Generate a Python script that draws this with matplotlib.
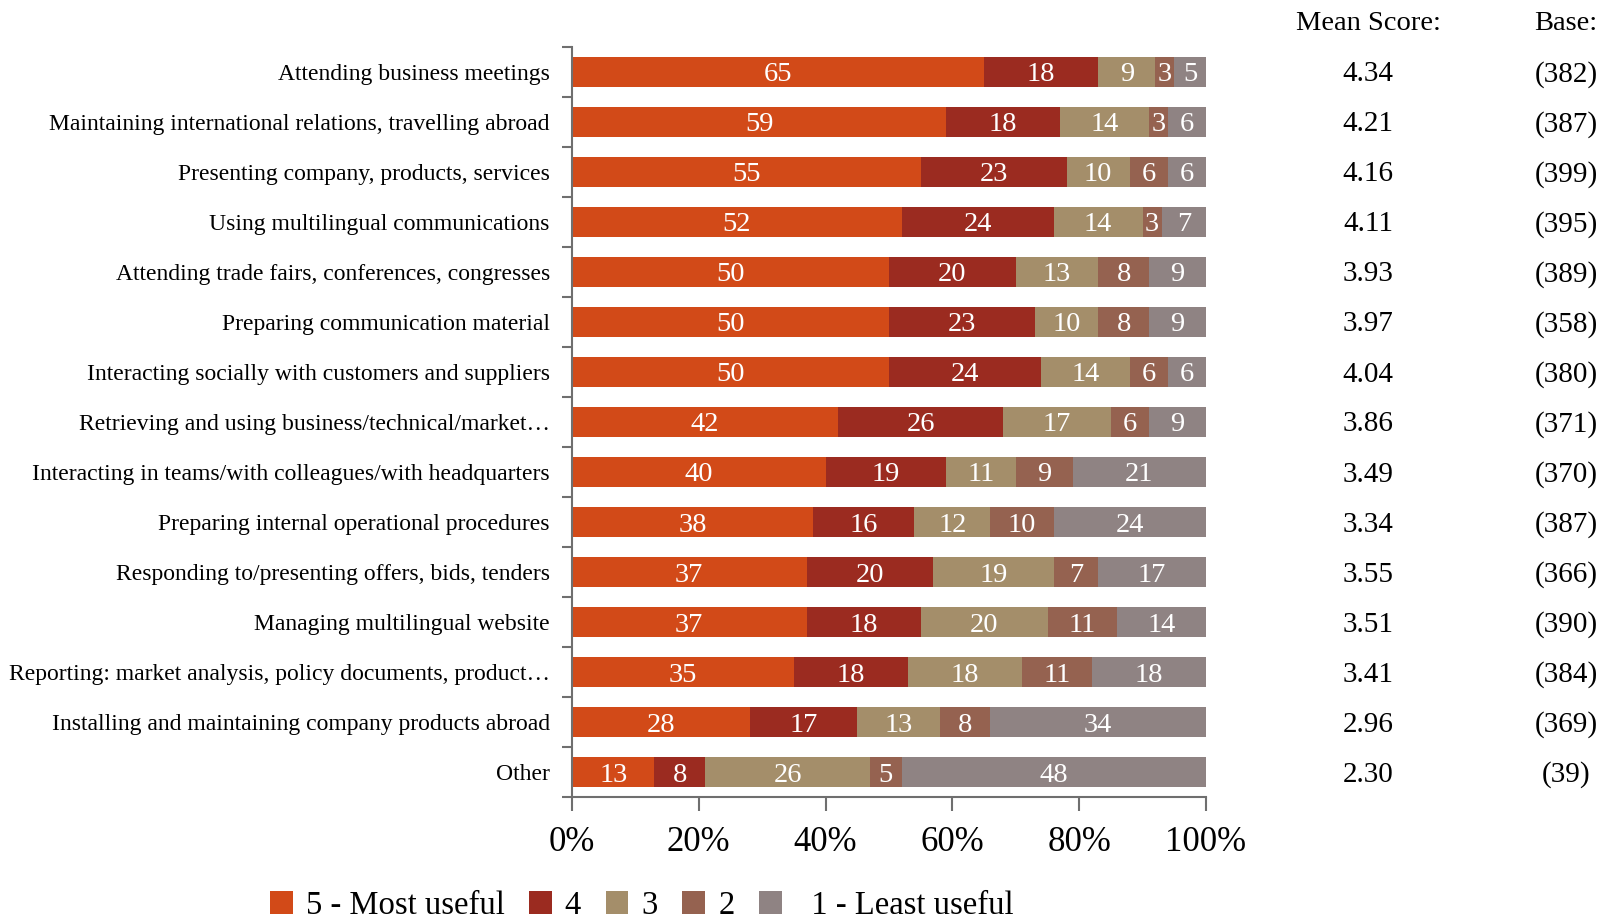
import matplotlib
matplotlib.use("Agg")
import matplotlib.pyplot as plt
from matplotlib.transforms import blended_transform_factory
from matplotlib.patches import Patch
import numpy as np

categories = [
    "Attending business meetings",
    "Maintaining international relations, travelling abroad",
    "Presenting company, products, services",
    "Using multilingual communications",
    "Attending trade fairs, conferences, congresses",
    "Preparing communication material",
    "Interacting socially with customers and suppliers",
    "Retrieving and using business/technical/market\u2026",
    "Interacting in teams/with colleagues/with headquarters",
    "Preparing internal operational procedures",
    "Responding to/presenting offers, bids, tenders",
    "Managing multilingual website",
    "Reporting: market analysis, policy documents, product\u2026",
    "Installing and maintaining company products abroad",
    "Other",
]
most_useful_5 = [65, 59, 55, 52, 50, 50, 50, 42, 40, 38, 37, 37, 35, 28, 13]
score_4 = [18, 18, 23, 24, 20, 23, 24, 26, 19, 16, 20, 18, 18, 17, 8]
score_3 = [9, 14, 10, 14, 13, 10, 14, 17, 11, 12, 19, 20, 18, 13, 26]
score_2 = [3, 3, 6, 3, 8, 8, 6, 6, 9, 10, 7, 11, 11, 8, 5]
least_useful_1 = [5, 6, 6, 7, 9, 9, 6, 9, 21, 24, 17, 14, 18, 34, 48]
mean_scores = ["4.34", "4.21", "4.16", "4.11", "3.93", "3.97", "4.04", "3.86",
               "3.49", "3.34", "3.55", "3.51", "3.41", "2.96", "2.30"]
bases = ["(382)", "(387)", "(399)", "(395)", "(389)", "(358)", "(380)", "(371)",
         "(370)", "(387)", "(366)", "(390)", "(384)", "(369)", "(39)"]
series_names = ["5 - Most useful", "4", "3", "2", "  1 - Least useful"]
colors = ["#D24A18", "#9B2B20", "#A48E6A", "#956250", "#8F8383"]
x_ticks = [0, 20, 40, 60, 80, 100]

plt.rcParams['font.family'] = ['Liberation Serif', 'DejaVu Serif']

fig = plt.figure(figsize=(16.16, 9.19), dpi=100)
ax = fig.add_axes([572/1616, 1-797/919, (1206-572)/1616, (797-47)/919])

series = [most_useful_5, score_4, score_3, score_2, least_useful_1]
y = np.arange(len(categories))
left = np.zeros(len(categories))
for vals, col in zip(series, colors):
    vals = np.array(vals, dtype=float)
    ax.barh(y, vals, left=left, height=0.61, color=col, edgecolor='none')
    for yi, l, v in zip(y, left, vals):
        ax.text(l + v/2, yi + 0.06, f"{int(v)}", ha='center', va='center',
                color='white', fontsize=20.5)
    left += vals

ax.set_xlim(0, 100)
ax.set_ylim(len(categories)-0.5, -0.5)
ax.set_xticks(x_ticks)
ax.set_xticklabels([f"{t}%" for t in x_ticks], fontsize=25)
ax.set_yticks(y)
ax.set_yticklabels(categories, fontsize=17)
ax.set_yticks(np.arange(-0.5, len(categories)), minor=True)
ax.tick_params(axis='y', which='major', length=0, pad=16)
ax.tick_params(axis='y', which='minor', length=7, width=1.5, color='#6f6f6f', direction='out')
ax.tick_params(axis='x', which='major', length=10, width=1.5, color='#6f6f6f', pad=11)
for s in ['top', 'right']:
    ax.spines[s].set_visible(False)
for s in ['left', 'bottom']:
    ax.spines[s].set_color('#6f6f6f')
    ax.spines[s].set_linewidth(1.5)

tr = blended_transform_factory(fig.transFigure, ax.transData)
x_mean = 1368/1616
x_base = 1566/1616
for yi, m, b in zip(y, mean_scores, bases):
    ax.text(x_mean, yi + 0.05, m, transform=tr, ha='center', va='center', fontsize=21)
    ax.text(x_base, yi + 0.05, b, transform=tr, ha='center', va='center', fontsize=21)
fig.text(x_mean, 1-23/919, "Mean Score:", ha='center', va='center', fontsize=20.5)
fig.text(x_base, 1-23/919, "Base:", ha='center', va='center', fontsize=20.5)

handles = [Patch(facecolor=c, edgecolor='none') for c in colors]
fig.legend(handles, series_names, loc='center', bbox_to_anchor=(0.397, 1-906/919),
           ncol=5, frameon=False, fontsize=23.5, handlelength=0.7, handleheight=0.7,
           handletextpad=0.4, columnspacing=0.75)

fig.savefig("out.png", dpi=100)
